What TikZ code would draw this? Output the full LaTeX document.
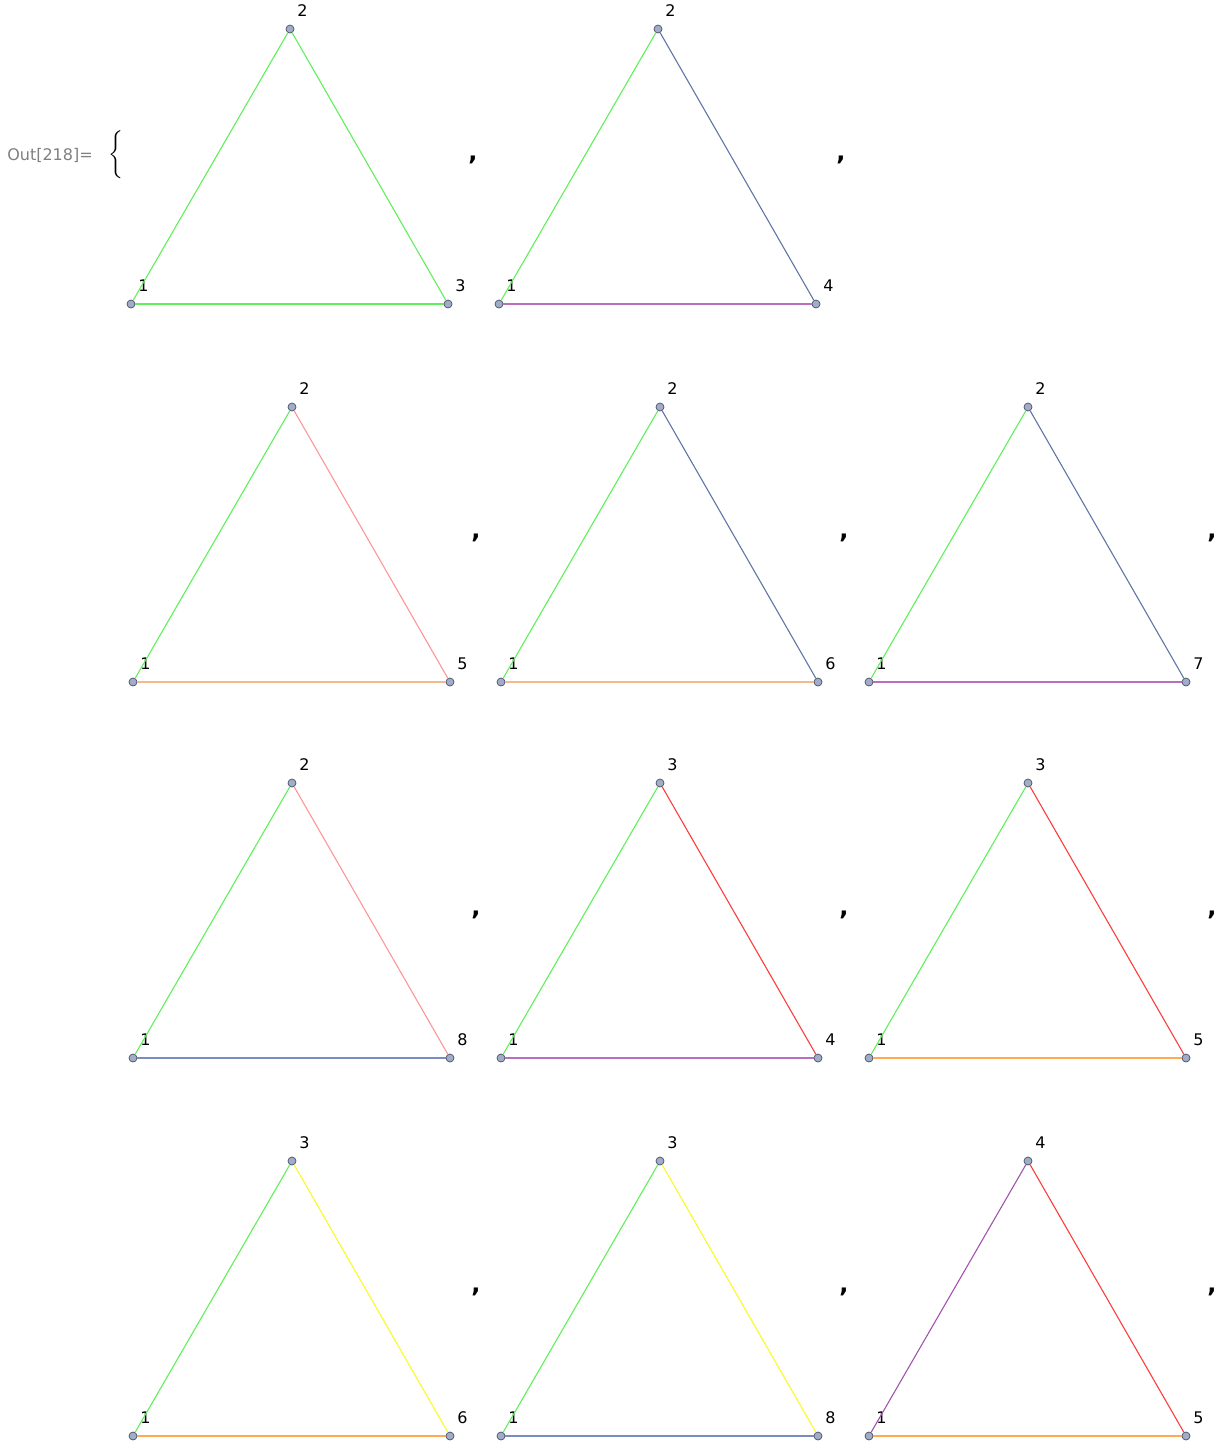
\documentclass[tikz,border=0pt]{standalone}
\usepackage{fontspec}
\setmainfont{DejaVu Sans}
\usetikzlibrary{positioning}
\definecolor{egreen}{RGB}{95,240,90}
\definecolor{eblue}{RGB}{95,118,165}
\definecolor{elblue}{RGB}{120,140,190}
\definecolor{epurple}{RGB}{185,110,190}
\definecolor{eviolet}{RGB}{160,85,170}
\definecolor{epeach}{RGB}{245,185,140}
\definecolor{epink}{RGB}{255,150,150}
\definecolor{ered}{RGB}{255,60,60}
\definecolor{eorange}{RGB}{255,170,80}
\definecolor{eyellow}{RGB}{250,250,40}
\definecolor{dotfill}{RGB}{160,172,200}
\definecolor{dotline}{RGB}{70,80,100}
\tikzset{
  dot/.style={circle,draw=dotline,fill=dotfill,inner sep=0pt,minimum size=4pt,line width=0.35pt},
  vlbl/.style={font=\fontsize{8}{9}\selectfont,inner sep=0pt,xshift=6.25pt,yshift=9.25pt},
  edg/.style={line width=0.55pt,draw=#1},
  cma/.style={font=\fontsize{12}{13}\selectfont\bfseries,inner sep=0pt},
  outlbl/.style={font=\fontsize{8}{9}\selectfont,text=gray,inner sep=0pt},
}
% triangle: name, x, y of vertex 1, top label, right label, left/right/bottom colours
\newcommand{\tri}[8]{%
  \node[dot,label={[vlbl]center:1}] (#1a) at (#2,#3) {};
  \node[dot,label={[vlbl]center:#4}] (#1b) at ({#2+159},{#3-275}) {};
  \node[dot,label={[vlbl]center:#5}] (#1c) at ({#2+317},#3) {};
  \draw[edg=#6] (#1a) -- (#1b);
  \draw[edg=#7] (#1b) -- (#1c);
  \draw[edg=#8] (#1a) -- (#1c);
}

\begin{document}
\begin{tikzpicture}[x=0.5pt,y=-0.5pt]
 \useasboundingbox (0,0) rectangle (1225,1448);
 \node[outlbl] (out) at (50,155) {Out[218]=};
 \node[inner sep=0pt] (brace) at (116,155) {$\bigg\{$};
 % row 1
 \tri{ta}{131}{304}{2}{3}{egreen}{egreen}{egreen}
 \tri{tb}{499}{304}{2}{4}{egreen}{eblue}{epurple}
 % row 2
 \tri{tc}{133}{682}{2}{5}{egreen}{epink}{epeach}
 \tri{td}{501}{682}{2}{6}{egreen}{eblue}{epeach}
 \tri{te}{869}{682}{2}{7}{egreen}{eblue}{epurple}
 % row 3
 \tri{tf}{133}{1058}{2}{8}{egreen}{epink}{elblue}
 \tri{tg}{501}{1058}{3}{4}{egreen}{ered}{epurple}
 \tri{th}{869}{1058}{3}{5}{egreen}{ered}{eorange}
 % row 4
 \tri{ti}{133}{1436}{3}{6}{egreen}{eyellow}{eorange}
 \tri{tj}{501}{1436}{3}{8}{egreen}{eyellow}{elblue}
 \tri{tk}{869}{1436}{4}{5}{eviolet}{ered}{eorange}
 % commas
 \foreach \n/\x/\y in {ka/473/160,kb/841/160,kc/476/538,kd/844/538,ke/1212/538,
   kf/476/915,kg/844/915,kh/1212/915,ki/476/1292,kj/844/1292,kk/1212/1292}
   \node[cma] (\n) at (\x,\y) {,};
\end{tikzpicture}
\end{document}
